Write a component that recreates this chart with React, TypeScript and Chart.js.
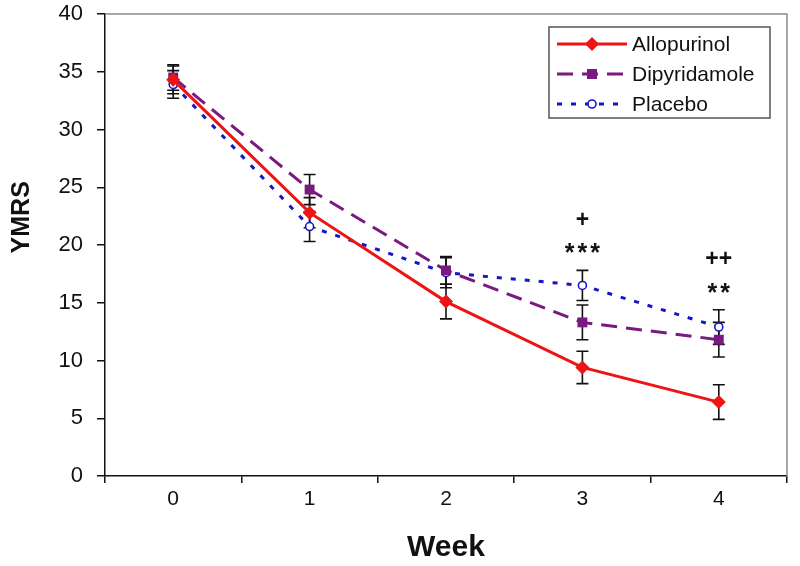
import React, { useEffect, useRef } from "react";
import { Chart, registerables } from "chart.js";
Chart.register(...registerables);

const weeks = ["0", "1", "2", "3", "4"];
const allopurinol = [34.3, 22.8, 15.1, 9.4, 6.4];
const allopurinolErr = [1.2, 1.3, 1.5, 1.4, 1.5];
const dipyridamole = [34.5, 24.8, 17.8, 13.3, 11.8];
const dipyridamoleErr = [1.1, 1.3, 1.2, 1.5, 1.5];
const placebo = [33.9, 21.6, 17.6, 16.5, 12.9];
const placeboErr = [1.2, 1.3, 1.3, 1.3, 1.5];
const starMarks = ["", "", "", "***", "**"];
const plusMarks = ["", "", "", "+", "++"];
const yTicks = [0, 5, 10, 15, 20, 25, 30, 35, 40];
const yTitle = "YMRS";

const FONT = "'Liberation Sans', Arial, sans-serif";
const RED = "#ee1414";
const PURPLE = "#7a1a80";
const BLUE = "#1616c8";

const errorBarPlugin = {
  id: "errorBars",
  beforeDatasetsDraw(chart: any) {
    const ctx = chart.ctx;
    const ys = chart.scales.y;
    ctx.save();
    ctx.strokeStyle = "#111";
    ctx.lineWidth = 1.6;
    chart.data.datasets.forEach((ds: any, i: number) => {
      const meta = chart.getDatasetMeta(i);
      meta.data.forEach((pt: any, j: number) => {
        const v = ds.data[j];
        const e = ds.errors[j];
        const yt = ys.getPixelForValue(v + e);
        const yb = ys.getPixelForValue(v - e);
        const x = pt.x;
        ctx.beginPath();
        ctx.moveTo(x, yt);
        ctx.lineTo(x, yb);
        ctx.moveTo(x - 6, yt);
        ctx.lineTo(x + 6, yt);
        ctx.moveTo(x - 6, yb);
        ctx.lineTo(x + 6, yb);
        ctx.stroke();
      });
    });
    ctx.restore();
  },
};

const annotationPlugin = {
  id: "sigMarks",
  afterDatasetsDraw(chart: any) {
    const ctx = chart.ctx;
    const ys = chart.scales.y;
    const xs = chart.scales.x;
    ctx.save();
    ctx.fillStyle = "#111";
    ctx.textAlign = "center";
    ctx.textBaseline = "middle";
    weeks.forEach((_, j) => {
      const tops = chart.data.datasets.map((ds: any) => ds.data[j] + ds.errors[j]);
      const topPx = ys.getPixelForValue(Math.max(...tops));
      const x = xs.getPixelForValue(j);
      if (starMarks[j]) {
        ctx.font = `bold 25px ${FONT}`;
        (ctx as any).letterSpacing = "3px";
        ctx.fillText(starMarks[j], x + 1.5, topPx - 16);
      }
      if (plusMarks[j]) {
        ctx.font = `bold 23px ${FONT}`;
        (ctx as any).letterSpacing = "0px";
        ctx.fillText(plusMarks[j], x, topPx - 50);
      }
    });
    ctx.restore();
  },
};

const framePlugin = {
  id: "frame",
  beforeDatasetsDraw(chart: any) {
    const { ctx, chartArea } = chart;
    ctx.save();
    ctx.strokeStyle = "#8a8a8a";
    ctx.lineWidth = 1.5;
    ctx.beginPath();
    ctx.moveTo(chartArea.left, chartArea.top);
    ctx.lineTo(chartArea.right, chartArea.top);
    ctx.lineTo(chartArea.right, chartArea.bottom);
    ctx.stroke();
    ctx.restore();
  },
};

const yTitlePlugin = {
  id: "yTitle",
  afterDraw(chart: any) {
    const { ctx, chartArea } = chart;
    ctx.save();
    ctx.translate(22, chartArea.top + (chartArea.bottom - chartArea.top) * 0.44);
    ctx.rotate(-Math.PI / 2);
    ctx.font = `bold 25px ${FONT}`;
    ctx.fillStyle = "#111";
    ctx.textAlign = "center";
    ctx.textBaseline = "middle";
    ctx.fillText(yTitle, 0, 0);
    ctx.restore();
  },
};

function drawMarker(ctx: CanvasRenderingContext2D, style: string, x: number, y: number, color: string) {
  ctx.save();
  ctx.setLineDash([]);
  ctx.beginPath();
  if (style === "rectRot") {
    ctx.moveTo(x, y - 7);
    ctx.lineTo(x + 7, y);
    ctx.lineTo(x, y + 7);
    ctx.lineTo(x - 7, y);
    ctx.closePath();
    ctx.fillStyle = color;
    ctx.fill();
  } else if (style === "rect") {
    ctx.rect(x - 5, y - 5, 10, 10);
    ctx.fillStyle = color;
    ctx.fill();
  } else {
    ctx.arc(x, y, 4, 0, Math.PI * 2);
    ctx.fillStyle = "#fff";
    ctx.fill();
    ctx.strokeStyle = color;
    ctx.lineWidth = 1.6;
    ctx.stroke();
  }
  ctx.restore();
}

const legendPlugin = {
  id: "boxLegend",
  afterDraw(chart: any) {
    const { ctx, chartArea } = chart;
    const boxR = chartArea.right - 17;
    const boxL = boxR - 221;
    const boxT = chartArea.top + 13;
    const boxH = 91;
    ctx.save();
    ctx.fillStyle = "#fff";
    ctx.fillRect(boxL, boxT, boxR - boxL, boxH);
    ctx.strokeStyle = "#555";
    ctx.lineWidth = 1.5;
    ctx.strokeRect(boxL, boxT, boxR - boxL, boxH);
    chart.data.datasets.forEach((ds: any, i: number) => {
      const y = boxT + 17 + i * 30;
      const x0 = boxL + 8;
      const x1 = boxL + 78;
      ctx.beginPath();
      ctx.strokeStyle = ds.borderColor;
      ctx.lineWidth = ds.borderWidth;
      ctx.setLineDash(ds.borderDash || []);
      ctx.moveTo(x0, y);
      ctx.lineTo(x1, y);
      ctx.stroke();
      drawMarker(ctx, ds.pointStyle, (x0 + x1) / 2, y, ds.borderColor);
      ctx.setLineDash([]);
      ctx.fillStyle = "#111";
      ctx.font = `21px ${FONT}`;
      ctx.textAlign = "left";
      ctx.textBaseline = "middle";
      ctx.fillText(ds.label, x1 + 5, y + 1);
    });
    ctx.restore();
  },
};

export default function App() {
  const ref = useRef<HTMLCanvasElement>(null);
  useEffect(() => {
    if (!ref.current) return;
    const chart = new Chart(ref.current, {
      type: "line",
      data: {
        labels: weeks,
        datasets: [
          {
            label: "Allopurinol",
            data: allopurinol,
            errors: allopurinolErr,
            borderColor: RED,
            backgroundColor: RED,
            borderWidth: 3,
            pointStyle: "rectRot",
            pointRadius: 7,
            pointBackgroundColor: RED,
            pointBorderColor: RED,
            pointBorderWidth: 0,
            tension: 0,
          } as any,
          {
            label: "Dipyridamole",
            data: dipyridamole,
            errors: dipyridamoleErr,
            borderColor: PURPLE,
            backgroundColor: PURPLE,
            borderWidth: 3,
            borderDash: [16, 9],
            pointStyle: "rect",
            pointRadius: 7,
            pointBackgroundColor: PURPLE,
            pointBorderColor: PURPLE,
            pointBorderWidth: 0,
            tension: 0,
          } as any,
          {
            label: "Placebo",
            data: placebo,
            errors: placeboErr,
            borderColor: BLUE,
            backgroundColor: "#fff",
            borderWidth: 3,
            borderDash: [5, 9],
            pointStyle: "circle",
            pointRadius: 4,
            pointBackgroundColor: "#fff",
            pointBorderColor: BLUE,
            pointBorderWidth: 1.6,
            tension: 0,
          } as any,
        ],
      },
      options: {
        animation: false,
        responsive: false,
        layout: { padding: { left: 0, right: 13, top: 14, bottom: 0 } },
        plugins: { legend: { display: false }, tooltip: { enabled: false } },
        scales: {
          x: {
            type: "category",
            offset: true,
            grid: {
              offset: true,
              drawOnChartArea: false,
              drawTicks: true,
              tickLength: 7,
              color: "#111",
              lineWidth: 1.5,
            },
            border: { display: true, color: "#111", width: 1.5 },
            ticks: { color: "#111", font: { family: FONT, size: 21 }, padding: 4 },
            title: {
              display: true,
              text: "Week",
              color: "#111",
              font: { family: FONT, size: 30, weight: "bold" },
              padding: { top: 0, bottom: 0 },
            },
            afterFit: (s: any) => {
              s.height = 90;
              s.paddingLeft = 0;
              s.paddingRight = 0;
            },
          },
          y: {
            min: 0,
            max: 40,
            afterBuildTicks: (s: any) => {
              s.ticks = yTicks.map((v) => ({ value: v }));
            },
            grid: {
              drawOnChartArea: false,
              drawTicks: true,
              tickLength: 8,
              color: "#111",
              lineWidth: 1.5,
            },
            border: { display: true, color: "#111", width: 1.5 },
            ticks: { color: "#111", font: { family: FONT, size: 22 }, padding: 14 },
            title: { display: false },
            afterFit: (s: any) => {
              s.width = 105;
              s.paddingTop = 0;
              s.paddingBottom = 0;
            },
          },
        },
      } as any,
      plugins: [framePlugin, errorBarPlugin, annotationPlugin, legendPlugin, yTitlePlugin],
    });
    return () => chart.destroy();
  }, []);
  return (
    <div style={{ position: "absolute", left: 0, top: 0, width: 800, height: 566, background: "#fff" }}>
      <canvas ref={ref} width={800} height={566} style={{ display: "block" }} />
    </div>
  );
}
